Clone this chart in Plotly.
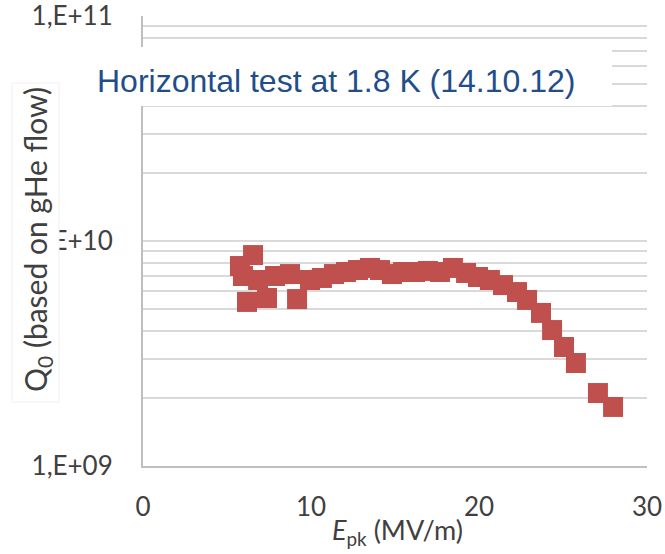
import plotly.graph_objects as go

# Data
epk = [5.77, 5.95, 6.55, 6.19, 6.85, 7.38, 7.86, 8.75, 9.17, 9.94,
       10.65, 11.37, 12.08, 12.80, 13.51, 14.11, 14.82, 15.48, 16.19, 16.96,
       17.68, 18.45, 19.23, 19.94, 20.65, 21.43, 22.26, 22.86, 23.69, 24.35,
       25.06, 25.77, 27.08, 27.98]
q0 = [7.74e9, 6.99e9, 8.66e9, 5.36e9, 6.71e9, 5.58e9, 6.99e9, 7.13e9, 5.52e9, 6.71e9,
      6.85e9, 7.13e9, 7.28e9, 7.43e9, 7.59e9, 7.43e9, 7.13e9, 7.28e9, 7.28e9, 7.36e9,
      7.28e9, 7.59e9, 7.21e9, 6.92e9, 6.71e9, 6.37e9, 5.93e9, 5.47e9, 4.79e9, 4.02e9,
      3.38e9, 2.87e9, 2.11e9, 1.83e9]

x_ticks = [0, 10, 20, 30]
y_major = [1e9, 1e10, 1e11]
y_major_labels = ["1,E+09", "1,E+10", "1,E+11"]
title_text = "Horizontal test at 1.8 K (14.10.12)"
x_title = "<i>E</i><sub>pk</sub> (MV/m)"
y_title = "Q<sub>0</sub> (based on gHe flow)"

# gridlines at every 1..9 x decade
y_tickvals, y_ticktext = [], []
for d in (9, 10):
    for k in range(1, 10):
        v = k * 10 ** d
        y_tickvals.append(v)
        y_ticktext.append(y_major_labels[y_major.index(v)] if v in y_major else "")
y_tickvals.append(1e11)
y_ticktext.append(y_major_labels[2])

fig = go.Figure()
fig.add_trace(go.Scatter(
    x=epk, y=q0, mode="markers",
    marker=dict(symbol="square", size=20, color="#C0504D", line=dict(width=0)),
    showlegend=False,
))

W, H = 665, 554
L, T = 143, 16
R = W - 647
B = H - 466
pw, ph = W - L - R, H - T - B

def sx(px):
    return (px - L) / pw

def sy(py):
    return (H - B - py) / ph

fig.update_layout(
    width=W, height=H,
    margin=dict(l=L, r=R, t=T, b=B, pad=0),
    paper_bgcolor="white", plot_bgcolor="white",
    font=dict(family="Lato", size=26, color="#404040"),
    xaxis=dict(
        range=[0, 30], tickvals=x_ticks, ticktext=[str(v) for v in x_ticks],
        showgrid=False, zeroline=False, showline=True, linecolor="#bfbfbf", linewidth=2,
        ticks="", ticklabelstandoff=17, automargin=False,
        tickfont=dict(size=26, color="#404040"),
    ),
    yaxis=dict(
        type="log", range=[9, 11.00001], tickvals=y_tickvals, ticktext=y_ticktext,
        showgrid=True, gridcolor="#d9d9d9", gridwidth=2,
        zeroline=False, showline=True, linecolor="#bfbfbf", linewidth=2,
        ticks="", ticklabelstandoff=23, ticklabeloverflow="allow", automargin=False,
        tickfont=dict(size=26, color="#404040"),
    ),
    shapes=[
        dict(type="rect", xref="paper", yref="paper",
             x0=sx(60), x1=sx(612), y0=sy(106), y1=sy(47),
             fillcolor="white", line=dict(width=0), layer="above"),
        dict(type="rect", xref="paper", yref="paper",
             x0=sx(12), x1=sx(59), y0=sy(402), y1=sy(83),
             fillcolor="white", line=dict(width=1, color="#f0f0f0"), layer="above"),
    ],
    annotations=[
        dict(text=title_text, xref="paper", yref="paper",
             x=sx(336), y=sy(81), xanchor="center", yanchor="middle",
             showarrow=False, font=dict(family="Liberation Sans", size=32, color="#1F4E8A")),
        dict(text=y_title, xref="paper", yref="paper", textangle=-90,
             x=sx(37), y=sy(240), xanchor="center", yanchor="middle",
             showarrow=False, font=dict(family="Lato", size=30, color="#404040")),
        dict(text=x_title, xref="paper", yref="paper",
             x=sx(397), y=sy(531), xanchor="center", yanchor="middle",
             showarrow=False, font=dict(family="Lato", size=27, color="#404040")),
    ],
)

fig.write_html(
    "out.html",
    config={"displayModeBar": False},
    post_script="document.body.style.margin='0';document.body.style.overflow='hidden';",
)
